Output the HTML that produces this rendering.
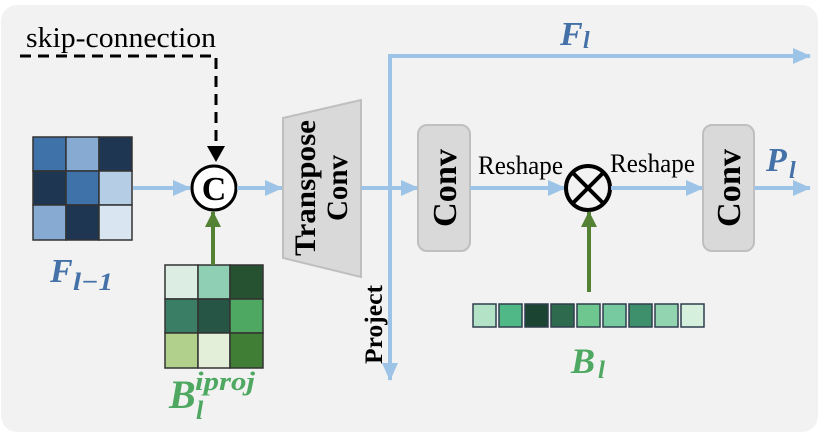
<!DOCTYPE html>
<html><head><meta charset="utf-8"><style>
html,body{margin:0;padding:0;background:#fff;}
svg{display:block;}
text{font-family:"Liberation Serif",serif;}
</style></head><body>
<svg width="830" height="436" viewBox="0 0 830 436" xmlns="http://www.w3.org/2000/svg">
<defs>
<marker id="ag" markerWidth="16" markerHeight="16" refX="15" refY="8" orient="auto" markerUnits="userSpaceOnUse"><path d="M0,0 L16,8 L0,16 Z" fill="#548235"/></marker>
<marker id="abl" markerWidth="18" markerHeight="16" refX="17" refY="8" orient="auto" markerUnits="userSpaceOnUse"><path d="M0,0 L18,8 L0,16 Z" fill="#9dc3e6"/></marker>
</defs>
<rect x="1" y="5" width="817" height="427" rx="16" fill="#f2f2f2"/>
<!-- skip connection -->
<text x="26" y="47" font-size="28" textLength="190" lengthAdjust="spacingAndGlyphs" fill="#000">skip-connection</text>
<path d="M20,56 H216 V160" fill="none" stroke="#000" stroke-width="3" stroke-dasharray="11,7"/>
<path d="M207,146 L216,162 L225,146 Z" fill="#000"/>
<!-- F_{l-1} grid -->
<g stroke="#333" stroke-width="1.5">
<rect x="33" y="137" width="33" height="34" fill="#3e72a8"/>
<rect x="66" y="137" width="33" height="34" fill="#86aad2"/>
<rect x="99" y="137" width="33" height="34" fill="#1f3653"/>
<rect x="33" y="171" width="33" height="34" fill="#1f3653"/>
<rect x="66" y="171" width="33" height="34" fill="#3e72a8"/>
<rect x="99" y="171" width="33" height="34" fill="#b6cde6"/>
<rect x="33" y="205" width="33" height="35" fill="#86aad2"/>
<rect x="66" y="205" width="33" height="35" fill="#1f3653"/>
<rect x="99" y="205" width="33" height="35" fill="#dae5f2"/>
</g>
<text x="50" y="282" font-size="34" font-weight="bold" font-style="italic" fill="#4471a7">F</text>
<text x="73" y="290" font-size="25" font-weight="bold" font-style="italic" fill="#4471a7" textLength="40" lengthAdjust="spacingAndGlyphs">l−1</text>
<!-- green grid -->
<g stroke="#333" stroke-width="1.5">
<rect x="165" y="265" width="33" height="34" fill="#dcede4"/>
<rect x="198" y="265" width="32" height="34" fill="#8fd0b4"/>
<rect x="230" y="265" width="33" height="34" fill="#275232"/>
<rect x="165" y="299" width="33" height="34" fill="#3a7f65"/>
<rect x="198" y="299" width="32" height="34" fill="#265445"/>
<rect x="230" y="299" width="33" height="34" fill="#4fa862"/>
<rect x="165" y="333" width="33" height="35" fill="#b0d08b"/>
<rect x="198" y="333" width="32" height="35" fill="#e3efd9"/>
<rect x="230" y="333" width="33" height="35" fill="#3f7e34"/>
</g>
<text x="169" y="408" font-size="40" font-weight="bold" font-style="italic" fill="#4ea861">B</text>
<text x="195" y="390" font-size="26" font-weight="bold" font-style="italic" fill="#4ea861" textLength="60" lengthAdjust="spacingAndGlyphs">iproj</text>
<text x="196" y="419" font-size="26" font-weight="bold" font-style="italic" fill="#4ea861">l</text>
<line x1="213" y1="265" x2="213" y2="212" stroke="#548235" stroke-width="4" marker-end="url(#ag)"/>
<!-- concat -->
<line x1="133" y1="188" x2="190" y2="188" stroke="#9dc3e6" stroke-width="4" marker-end="url(#abl)"/>
<circle cx="214" cy="188" r="22" fill="#fff" stroke="#000" stroke-width="3"/>
<text x="214" y="200" font-size="34" font-weight="bold" text-anchor="middle">C</text>
<line x1="237" y1="188" x2="282" y2="188" stroke="#9dc3e6" stroke-width="4" marker-end="url(#abl)"/>
<!-- transpose conv -->
<path d="M283,118 L361,100 L361,277 L283,258 Z" fill="#d9d9d9" stroke="#bfbfbf" stroke-width="2"/>
<text transform="translate(315,188) rotate(-90)" font-size="30" font-weight="bold" text-anchor="middle" textLength="136" lengthAdjust="spacingAndGlyphs">Transpose</text>
<text transform="translate(347,188) rotate(-90)" font-size="30" font-weight="bold" text-anchor="middle" textLength="66" lengthAdjust="spacingAndGlyphs">Conv</text>
<!-- project / F_l -->
<line x1="361" y1="188" x2="418" y2="188" stroke="#9dc3e6" stroke-width="4" marker-end="url(#abl)"/>
<line x1="390" y1="54" x2="390" y2="380" stroke="#9dc3e6" stroke-width="4" marker-end="url(#abl)"/>
<line x1="388" y1="56" x2="810" y2="56" stroke="#9dc3e6" stroke-width="4" marker-end="url(#abl)"/>
<text x="560" y="45" font-size="34" font-weight="bold" font-style="italic" fill="#4471a7">F</text>
<text x="583" y="48" font-size="24" font-weight="bold" font-style="italic" fill="#4471a7">l</text>
<text transform="translate(382,364) rotate(-90)" font-size="25" font-weight="bold" textLength="79" lengthAdjust="spacingAndGlyphs">Project</text>
<!-- conv1 -->
<rect x="418" y="125" width="52" height="126" rx="9" fill="#d9d9d9" stroke="#bfbfbf" stroke-width="2"/>
<text transform="translate(456,188) rotate(-90)" font-size="34" font-weight="bold" text-anchor="middle" textLength="78" lengthAdjust="spacingAndGlyphs">Conv</text>
<line x1="470" y1="188" x2="565" y2="188" stroke="#9dc3e6" stroke-width="4" marker-end="url(#abl)"/>
<text x="478" y="174" font-size="26" textLength="85" lengthAdjust="spacingAndGlyphs">Reshape</text>
<circle cx="588" cy="188" r="22" fill="none" stroke="#000" stroke-width="4"/>
<line x1="573" y1="173" x2="603" y2="203" stroke="#000" stroke-width="4"/>
<line x1="603" y1="173" x2="573" y2="203" stroke="#000" stroke-width="4"/>
<line x1="611" y1="188" x2="703" y2="188" stroke="#9dc3e6" stroke-width="4" marker-end="url(#abl)"/>
<text x="610" y="172" font-size="26" textLength="85" lengthAdjust="spacingAndGlyphs">Reshape</text>
<!-- conv2 -->
<rect x="703" y="125" width="51" height="126" rx="9" fill="#d9d9d9" stroke="#bfbfbf" stroke-width="2"/>
<text transform="translate(740,188) rotate(-90)" font-size="34" font-weight="bold" text-anchor="middle" textLength="78" lengthAdjust="spacingAndGlyphs">Conv</text>
<line x1="754" y1="188" x2="810" y2="188" stroke="#9dc3e6" stroke-width="4" marker-end="url(#abl)"/>
<text x="766" y="171" font-size="34" font-weight="bold" font-style="italic" fill="#4471a7">P</text>
<text x="789" y="178" font-size="24" font-weight="bold" font-style="italic" fill="#4471a7">l</text>
<!-- B_l -->
<line x1="589" y1="292" x2="589" y2="212" stroke="#548235" stroke-width="4" marker-end="url(#ag)"/>
<g stroke="#2f3e4e" stroke-width="1.5">
<rect x="473" y="304" width="23" height="23" fill="#b3e2c6"/>
<rect x="499" y="304" width="23" height="23" fill="#4fb886"/>
<rect x="525" y="304" width="23" height="23" fill="#1c4433"/>
<rect x="551" y="304" width="23" height="23" fill="#2e6a4e"/>
<rect x="577" y="304" width="23" height="23" fill="#6dc78e"/>
<rect x="603" y="304" width="23" height="23" fill="#77c9a0"/>
<rect x="629" y="304" width="23" height="23" fill="#3e8f6b"/>
<rect x="655" y="304" width="23" height="23" fill="#93d4b0"/>
<rect x="681" y="304" width="23" height="23" fill="#d5f0dc"/>
</g>
<text x="571" y="373" font-size="36" font-weight="bold" font-style="italic" fill="#4ea861">B</text>
<text x="598" y="378" font-size="25" font-weight="bold" font-style="italic" fill="#4ea861">l</text>
</svg>
</body></html>
